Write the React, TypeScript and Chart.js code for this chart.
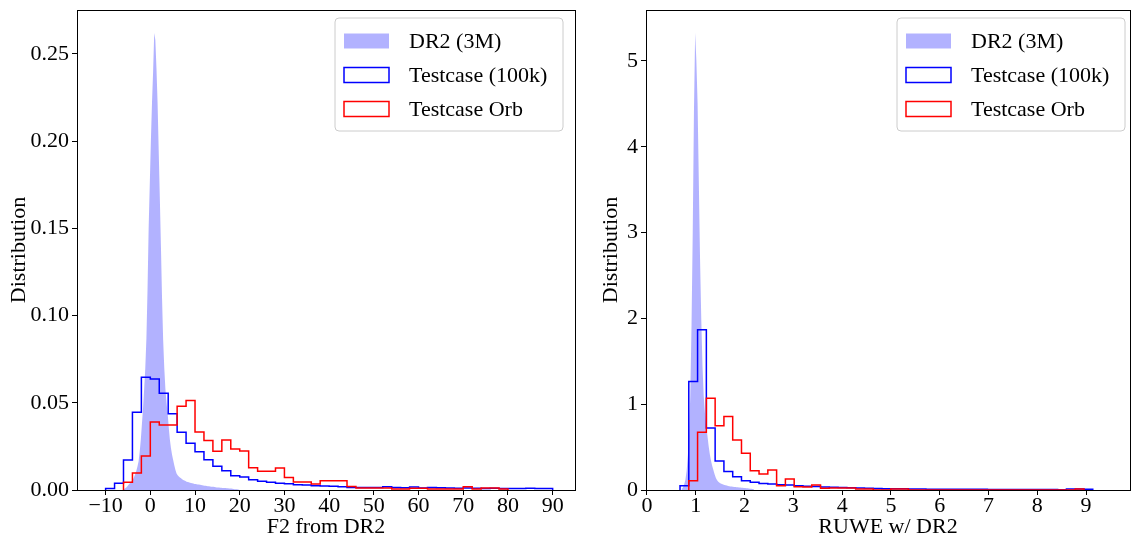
import React, { useEffect, useRef } from "react";
import { Chart, registerables } from "chart.js";

Chart.register(...registerables);

// ---------- Data ----------
// Left panel: F2 from DR2
const F2_DR2_START = -6.0;
const F2_DR2_WIDTH = 0.25;
const f2Dr2 = [
  0.0006, 0.001, 0.0015, 0.0022, 0.003, 0.0037, 0.0045, 0.0052, 0.0062, 0.0075, 0.0092, 0.011,
  0.0135, 0.0165, 0.022, 0.029, 0.038, 0.047, 0.058, 0.07, 0.087, 0.115, 0.15, 0.175,
  0.2, 0.222, 0.24, 0.262, 0.258, 0.242, 0.222, 0.195, 0.168, 0.14, 0.11, 0.086,
  0.07, 0.058, 0.05, 0.044, 0.036, 0.029, 0.024, 0.02, 0.017, 0.014, 0.0115, 0.0095,
  0.0085, 0.0078, 0.0072, 0.0067, 0.0062, 0.0058, 0.0054, 0.0051, 0.0048, 0.0046, 0.0044, 0.0042,
  0.004, 0.0038, 0.0037, 0.0035, 0.0034, 0.0033, 0.0032, 0.0031, 0.003, 0.0029, 0.0027, 0.0026,
  0.0025, 0.0024, 0.0023, 0.0022, 0.0021, 0.002, 0.0019, 0.0018, 0.0018, 0.0017, 0.0016, 0.0015,
  0.0015, 0.0014, 0.0013, 0.0013, 0.0012, 0.0012, 0.0011, 0.0011, 0.001, 0.001, 0.0009, 0.0008,
  0.0008, 0.0007, 0.0006, 0.0005, 0.0005, 0.0004, 0.0003, 0.0002,
];

const F2_BIN = 2;
const F2_TEST_START = -10;
const f2Test100k = [
  0.0008, 0.0038, 0.0172, 0.0446, 0.0647, 0.0637, 0.0555, 0.0437, 0.0331, 0.0268,
  0.0219, 0.0174, 0.0136, 0.0111, 0.0082, 0.0075, 0.0059, 0.005, 0.0044, 0.0038,
  0.0036, 0.003, 0.0029, 0.0025, 0.0023, 0.0021, 0.0019, 0.0015, 0.0014, 0.0015,
  0.0015, 0.0019, 0.0015, 0.0013, 0.0017, 0.0012, 0.0014, 0.0013, 0.0011, 0.001,
  0.0012, 0.001, 0.0009, 0.001, 0.0008, 0.0008, 0.0009, 0.001, 0.0008, 0.0009,
];

const F2_ORB_START = -6;
const f2TestOrb = [
  0.0045, 0.0098, 0.0195, 0.039, 0.0372, 0.0372, 0.048, 0.0513, 0.0333, 0.0284,
  0.0222, 0.0287, 0.0235, 0.0224, 0.0128, 0.0107, 0.0107, 0.0126, 0.0072, 0.0046,
  0.0046, 0.0034, 0.0053, 0.0053, 0.0053, 0.002, 0.0012, 0.0012, 0.0011, 0.0011,
  0.0006, 0.0006, 0.001, 0.001, 0.0006, 0.0006, 0.0006, 0.0006, 0.0019, 0.0006,
  0.0011, 0.0011, 0.0006,
];

// Right panel: RUWE w/ DR2
const RUWE_DR2_START = 0.7;
const RUWE_DR2_WIDTH = 0.025;
const ruweDr2 = [
  0.012, 0.03, 0.065, 0.12, 0.22, 0.4, 0.65, 1.1, 1.9, 3.0, 4.4, 5.33,
  5.0, 4.5, 3.6, 2.7, 2.0, 1.45, 1.1, 0.9, 0.75, 0.64, 0.52, 0.42, 0.34, 0.28,
  0.23, 0.18, 0.14, 0.115, 0.095, 0.085, 0.077, 0.07, 0.064, 0.059, 0.055, 0.051,
  0.048, 0.045, 0.042, 0.04, 0.038, 0.036, 0.034, 0.032, 0.031, 0.029, 0.028, 0.026,
  0.025, 0.024, 0.022, 0.021, 0.019, 0.018, 0.016, 0.014, 0.012, 0.01,
];

const RUWE_BIN = 0.18;
const RUWE_TEST_START = 0.677;
const ruweTest100k = [
  0.05, 1.264, 1.868, 0.724, 0.339, 0.217, 0.155, 0.109, 0.089, 0.077, 0.07, 0.062,
  0.058, 0.05, 0.045, 0.04, 0.036, 0.032, 0.03, 0.025, 0.022, 0.02, 0.018, 0.016,
  0.015, 0.014, 0.012, 0.011, 0.01, 0.01, 0.009, 0.009, 0.008, 0.008, 0.008, 0.007,
  0.007, 0.007, 0.006, 0.006, 0.006, 0.005, 0.005, 0.003, 0.012, 0.012, 0.01,
];

const RUWE_ORB_START = 0.857;
const ruweTestOrb = [
  0.109, 0.673, 1.07, 0.75, 0.856, 0.584, 0.428, 0.225, 0.187, 0.233, 0.05, 0.128,
  0.039, 0.035, 0.058, 0.019, 0.023, 0.023, 0.023, 0.012, 0.012, 0, 0, 0.012, 0.012,
  0, 0, 0, 0, 0, 0, 0, 0, 0, 0, 0, 0, 0, 0, 0, 0, 0, 0, 0, 0.012,
];

// Ticks and labels
const f2XTicks = [-10, 0, 10, 20, 30, 40, 50, 60, 70, 80, 90];
const f2YTicks = [0, 0.05, 0.1, 0.15, 0.2, 0.25];
const ruweXTicks = [0, 1, 2, 3, 4, 5, 6, 7, 8, 9];
const ruweYTicks = [0, 1, 2, 3, 4, 5];
const legendLabels = ["DR2 (3M)", "Testcase (100k)", "Testcase Orb"];
const f2XTitle = "F2 from DR2";
const ruweXTitle = "RUWE w/ DR2";
const yTitle = "Distribution";

// ---------- Helpers ----------
const FONT = "'Liberation Serif', 'Times New Roman', serif";
const FS = 22;
const FILL = "rgba(0,0,255,0.3)";
const BLUE = "#0000ff";
const RED = "#ff0000";

// Outline of a step histogram: bin edges from start/width, heights from values
function stepPoints(start: number, width: number, values: number[]) {
  const pts = [{ x: start, y: 0 }];
  values.forEach((v, i) => {
    pts.push({ x: start + i * width, y: v });
    pts.push({ x: start + (i + 1) * width, y: v });
  });
  pts.push({ x: start + values.length * width, y: 0 });
  return pts;
}

// Very fine-binned filled histogram: one point per bin centre
function centerPoints(start: number, width: number, values: number[]) {
  const pts = [{ x: start, y: 0 }];
  values.forEach((v, i) => pts.push({ x: start + (i + 0.5) * width, y: v }));
  pts.push({ x: start + values.length * width, y: 0 });
  return pts;
}

const minusFmt = (v: number, digits: number) => {
  const s = Math.abs(v).toFixed(digits);
  return v < 0 ? "\u2212" + s : s;
};

function framePlugin() {
  return {
    id: "frame",
    afterDatasetsDraw(chart: any) {
      const { ctx, chartArea } = chart;
      ctx.save();
      ctx.strokeStyle = "#000";
      ctx.lineWidth = 1;
      ctx.strokeRect(
        Math.round(chartArea.left) + 0.5,
        Math.round(chartArea.top) + 0.5,
        Math.round(chartArea.right - chartArea.left),
        Math.round(chartArea.bottom - chartArea.top)
      );
      ctx.restore();
    },
  };
}

function legendPlugin(boxLeft: number, boxTop: number) {
  return {
    id: "histLegend",
    afterDraw(chart: any) {
      const ctx = chart.ctx;
      const w = 228;
      const h = 113;
      const r = 4;
      ctx.save();
      ctx.beginPath();
      ctx.moveTo(boxLeft + r, boxTop);
      ctx.lineTo(boxLeft + w - r, boxTop);
      ctx.arcTo(boxLeft + w, boxTop, boxLeft + w, boxTop + r, r);
      ctx.lineTo(boxLeft + w, boxTop + h - r);
      ctx.arcTo(boxLeft + w, boxTop + h, boxLeft + w - r, boxTop + h, r);
      ctx.lineTo(boxLeft + r, boxTop + h);
      ctx.arcTo(boxLeft, boxTop + h, boxLeft, boxTop + h - r, r);
      ctx.lineTo(boxLeft, boxTop + r);
      ctx.arcTo(boxLeft, boxTop, boxLeft + r, boxTop, r);
      ctx.closePath();
      ctx.fillStyle = "rgba(255,255,255,0.8)";
      ctx.fill();
      ctx.strokeStyle = "#cccccc";
      ctx.lineWidth = 1;
      ctx.stroke();

      const styles = [
        { fill: FILL },
        { stroke: BLUE },
        { stroke: RED },
      ];
      styles.forEach((s: any, i) => {
        const cy = boxTop + 23 + i * 34;
        const px = boxLeft + 9;
        const pw = 45;
        const ph = 15;
        if (s.fill) {
          ctx.fillStyle = s.fill;
          ctx.fillRect(px, cy - ph / 2, pw, ph);
        } else {
          ctx.strokeStyle = s.stroke;
          ctx.lineWidth = 1.5;
          ctx.strokeRect(px, cy - ph / 2, pw, ph);
        }
        ctx.fillStyle = "#000";
        ctx.font = `${FS}px ${FONT}`;
        ctx.textBaseline = "middle";
        ctx.textAlign = "left";
        ctx.fillText(legendLabels[i], boxLeft + 74, cy + 1);
      });
      ctx.restore();
    },
  };
}

interface PanelCfg {
  dr2: { x: number; y: number }[];
  test: { x: number; y: number }[];
  orb: { x: number; y: number }[];
  xMin: number;
  xMax: number;
  yMax: number;
  xTicks: number[];
  yTicks: number[];
  xDigits: number;
  yDigits: number;
  xTitle: string;
  yAxisWidth: number;
  yTitlePad: number;
  padRight: number;
  legendLeft: number;
}

function makeChart(canvas: HTMLCanvasElement, c: PanelCfg) {
  const lineDs = (label: string, data: any, color: string, order: number) => ({
    label,
    data,
    borderColor: color,
    borderWidth: 1.5,
    borderJoinStyle: "miter" as const,
    backgroundColor: "transparent",
    fill: false,
    pointRadius: 0,
    pointHoverRadius: 0,
    tension: 0,
    order,
  });
  return new Chart(canvas, {
    type: "line",
    data: {
      datasets: [
        lineDs(legendLabels[2], c.orb, RED, 1),
        lineDs(legendLabels[1], c.test, BLUE, 2),
        {
          label: legendLabels[0],
          data: c.dr2,
          borderColor: "rgba(0,0,0,0)",
          borderWidth: 0,
          backgroundColor: FILL,
          fill: "origin",
          pointRadius: 0,
          pointHoverRadius: 0,
          tension: 0,
          order: 3,
        } as any,
      ],
    },
    options: {
      responsive: false,
      animation: false,
      devicePixelRatio: 1,
      events: [],
      layout: { padding: { top: 10, right: c.padRight, left: 0, bottom: 0 } },
      plugins: {
        legend: { display: false },
        tooltip: { enabled: false },
        filler: { propagate: false },
      },
      scales: {
        x: {
          type: "linear",
          min: c.xMin,
          max: c.xMax,
          afterBuildTicks: (s: any) => {
            s.ticks = c.xTicks.map((v) => ({ value: v }));
          },
          afterFit: (s: any) => {
            s.height = 57;
            s.paddingLeft = 0;
            s.paddingRight = 0;
          },
          ticks: {
            callback: (v: any) => minusFmt(Number(v), c.xDigits),
            color: "#000",
            font: { size: FS, family: FONT },
            padding: -2,
            maxRotation: 0,
            autoSkip: false,
          },
          grid: {
            drawOnChartArea: false,
            drawTicks: true,
            tickLength: 5,
            tickColor: "#000",
            tickWidth: 1,
          },
          border: { display: true, color: "#000", width: 1 },
          title: {
            display: true,
            text: c.xTitle,
            color: "#000",
            font: { size: FS, family: FONT },
            padding: { top: 0, bottom: 7 },
          },
        },
        y: {
          type: "linear",
          min: 0,
          max: c.yMax,
          afterBuildTicks: (s: any) => {
            s.ticks = c.yTicks.map((v) => ({ value: v }));
          },
          afterFit: (s: any) => {
            s.width = c.yAxisWidth;
            s.paddingTop = 0;
            s.paddingBottom = 0;
          },
          ticks: {
            callback: (v: any) => minusFmt(Number(v), c.yDigits),
            color: "#000",
            font: { size: FS, family: FONT },
            padding: 3,
            autoSkip: false,
          },
          grid: {
            drawOnChartArea: false,
            drawTicks: true,
            tickLength: 5,
            tickColor: "#000",
            tickWidth: 1,
          },
          border: { display: true, color: "#000", width: 1 },
          title: {
            display: true,
            text: yTitle,
            color: "#000",
            font: { size: FS, family: FONT },
            padding: { top: c.yTitlePad, bottom: 0 },
          },
        },
      },
    } as any,
    plugins: [framePlugin(), legendPlugin(c.legendLeft, 18)],
  });
}

export default function App() {
  const leftRef = useRef<HTMLCanvasElement>(null);
  const rightRef = useRef<HTMLCanvasElement>(null);

  useEffect(() => {
    Chart.defaults.font.family = FONT;
    Chart.defaults.color = "#000";
    const left = makeChart(leftRef.current!, {
      dr2: centerPoints(F2_DR2_START, F2_DR2_WIDTH, f2Dr2),
      test: stepPoints(F2_TEST_START, F2_BIN, f2Test100k),
      orb: stepPoints(F2_ORB_START, F2_BIN, f2TestOrb),
      xMin: -16.4,
      xMax: 95,
      yMax: 0.2752,
      xTicks: f2XTicks,
      yTicks: f2YTicks,
      xDigits: 0,
      yDigits: 2,
      xTitle: f2XTitle,
      yAxisWidth: 77,
      yTitlePad: 6,
      padRight: 5,
      legendLeft: 335,
    });
    const right = makeChart(rightRef.current!, {
      dr2: centerPoints(RUWE_DR2_START, RUWE_DR2_WIDTH, ruweDr2),
      test: stepPoints(RUWE_TEST_START, RUWE_BIN, ruweTest100k),
      orb: stepPoints(RUWE_ORB_START, RUWE_BIN, ruweTestOrb),
      xMin: -0.02,
      xMax: 9.9,
      yMax: 5.594,
      xTicks: ruweXTicks,
      yTicks: ruweYTicks,
      xDigits: 0,
      yDigits: 0,
      xTitle: ruweXTitle,
      yAxisWidth: 66,
      yTitlePad: 18,
      padRight: 2,
      legendLeft: 317,
    });
    return () => {
      left.destroy();
      right.destroy();
    };
  }, []);

  return (
    <div
      style={{
        position: "fixed",
        left: 0,
        top: 0,
        width: 1132,
        height: 547,
        background: "#fff",
        overflow: "hidden",
      }}
    >
      <canvas
        ref={leftRef}
        width={580}
        height={547}
        style={{ position: "absolute", left: 0, top: 0, width: 580, height: 547 }}
      />
      <canvas
        ref={rightRef}
        width={552}
        height={547}
        style={{ position: "absolute", left: 580, top: 0, width: 552, height: 547 }}
      />
    </div>
  );
}
